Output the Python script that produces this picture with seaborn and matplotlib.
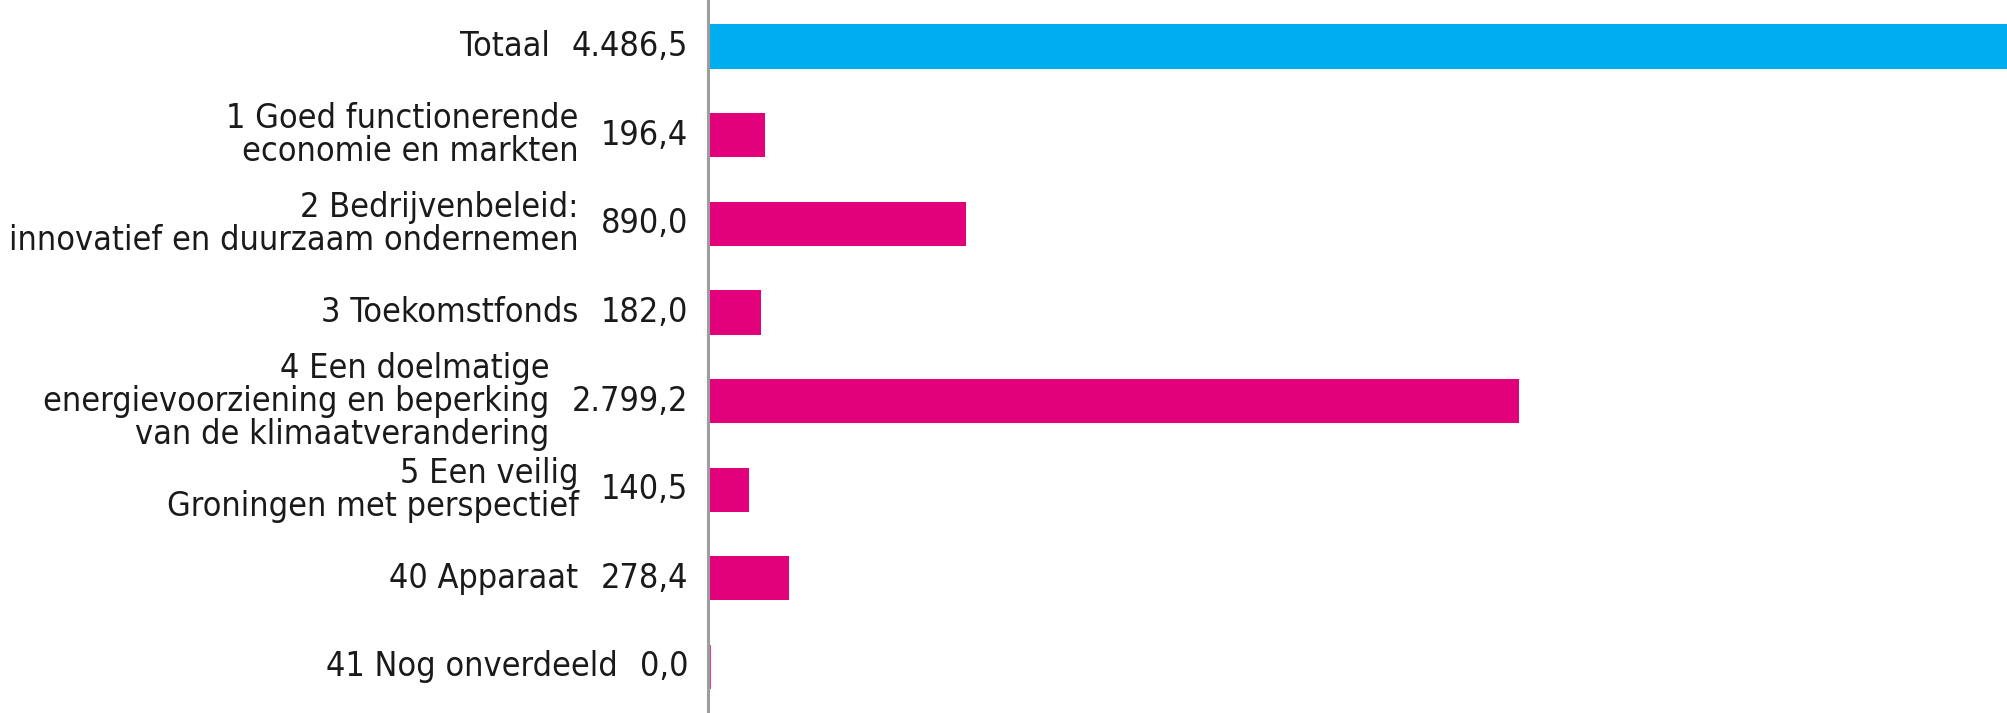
import matplotlib
matplotlib.use("Agg")
import matplotlib.pyplot as plt
import matplotlib.transforms as mtransforms
import seaborn as sns
import pandas as pd

categories = [
    "Totaal",
    "1 Goed functionerende\neconomie en markten",
    "2 Bedrijvenbeleid:\ninnovatief en duurzaam ondernemen",
    "3 Toekomstfonds",
    "4 Een doelmatige\nenergievoorziening en beperking\nvan de klimaatverandering",
    "5 Een veilig\nGroningen met perspectief",
    "40 Apparaat",
    "41 Nog onverdeeld",
]
values = [4486.5, 196.4, 890.0, 182.0, 2799.2, 140.5, 278.4, 0.0]
bar_colors = ["#00AEEF", "#E3007B", "#E3007B", "#E3007B", "#E3007B", "#E3007B", "#E3007B", "#E3007B"]


def nl(v):
    s = f"{v:,.1f}"
    return s.replace(",", "X").replace(".", ",").replace("X", ".")


sns.set_theme(style="white")
plt.rcParams["font.family"] = ["DejaVu Sans"]

W, H, DPI = 2008, 713, 100
fig = plt.figure(figsize=(W / DPI, H / DPI), dpi=DPI)
ax = fig.add_axes([708 / W, 0, 1300 / W, 1])

df = pd.DataFrame({"cat": categories, "val": values})
sns.barplot(data=df, x="val", y="cat", hue="cat", palette=bar_colors,
            legend=False, width=0.5, orient="h", ax=ax, saturation=1,
            edgecolor="none")
# zero-valued bar shown as a thin line
last = ax.patches[len(values) - 1]
last.set_edgecolor(bar_colors[-1])
last.set_linewidth(4)

ax.set_xlim(0, 4486.5)
ax.set_ylim(7.52, -0.526)
ax.set_xticks([])
ax.set_yticks([])
ax.set_xlabel("")
ax.set_ylabel("")
for s in ["top", "right", "bottom"]:
    ax.spines[s].set_visible(False)
ax.spines["left"].set_color("#9D9D9D")
ax.spines["left"].set_linewidth(2.2)
ax.spines["left"].set_zorder(5)

fs = 24.5
txt_kw = dict(fontsize=fs, color="#1a1a1a", fontstretch="condensed", va="center")
base = ax.get_yaxis_transform()
fig.canvas.draw()
renderer = fig.canvas.get_renderer()
for i, (c, v) in enumerate(zip(categories, values)):
    tv = mtransforms.offset_copy(base, fig=fig, x=-20, y=0, units="dots")
    t = ax.text(0, i, nl(v), transform=tv, ha="right", **txt_kw)
    w = t.get_window_extent(renderer).width
    tl = mtransforms.offset_copy(base, fig=fig, x=-(20 + w + 22), y=0, units="dots")
    ax.text(0, i, c, transform=tl, ha="right", multialignment="right",
            linespacing=1.0, **txt_kw)

fig.savefig("out.png", dpi=DPI)
